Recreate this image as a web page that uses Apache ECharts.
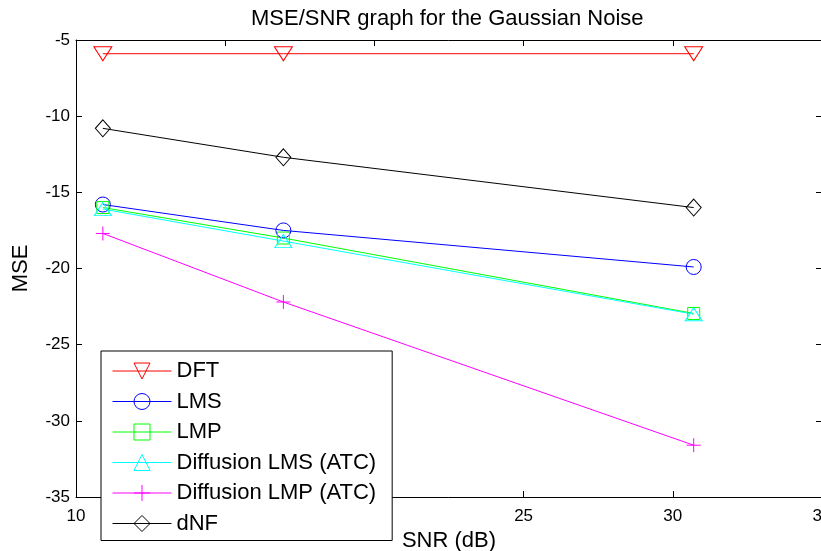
<!DOCTYPE html>
<html>
<head>
<meta charset="utf-8">
<script src="https://cdn.jsdelivr.net/npm/echarts@6/dist/echarts.min.js"></script>
<style>html,body{margin:0;padding:0;background:#fff;}#c{width:821px;height:551px;}</style>
</head>
<body>
<div id="c"></div>
<script>
var snr = [10.9, 16.95, 30.7];
var dft = [-5.9, -5.9, -5.9];
var lms = [-15.8, -17.5, -19.9];
var lmp = [-16.0, -18.0, -22.95];
var diffLms = [-16.1, -18.2, -23.0];
var diffLmp = [-17.7, -22.2, -31.6];
var dnf = [-10.8, -12.7, -16.0];
var seriesNames = ['DFT', 'LMS', 'LMP', 'Diffusion LMS (ATC)', 'Diffusion LMP (ATC)', 'dNF'];

var FONT = 'Liberation Sans, Arial, sans-serif';
var plusPath = 'path://M0,5L10,5M5,0L5,10';

function pairs(ys) { return snr.map(function (x, i) { return [x, ys[i]]; }); }

function mk(name, ys, color, symbol, size, rotate) {
  return {
    type: 'line', name: name, data: pairs(ys),
    symbol: symbol, symbolSize: size, symbolRotate: rotate || 0,
    showAllSymbol: true,
    color: color,
    lineStyle: { color: color, width: 1 },
    itemStyle: { color: 'rgba(255,255,255,0)', borderColor: color, borderWidth: 1 },
    emphasis: { disabled: true },
    animation: false
  };
}

var chart = echarts.init(document.getElementById('c'), null, { renderer: 'canvas' });
var axisCommon = {
  axisLine: { show: true, onZero: false, lineStyle: { color: '#000', width: 1 } },
  axisTick: { show: true, inside: true, length: 6, lineStyle: { color: '#000' } },
  splitLine: { show: false }
};
chart.setOption({
  backgroundColor: '#fff',
  animation: false,
  title: {
    text: 'MSE/SNR graph for the Gaussian Noise',
    left: 246, top: 3,
    textStyle: { fontFamily: FONT, fontSize: 22, fontWeight: 'normal', color: '#000' }
  },
  grid: { left: 76, top: 40, right: -1, bottom: 54, containLabel: false, outerBoundsMode: 'none' },
  xAxis: [
    Object.assign({
      type: 'value', position: 'bottom', min: 10, max: 35, interval: 5,
      axisLabel: { color: '#000', fontSize: 17, fontFamily: FONT, margin: 11 },
      name: 'SNR (dB)', nameLocation: 'middle', nameGap: 27,
      nameTextStyle: { color: '#000', fontSize: 22, fontFamily: FONT }
    }, axisCommon),
    Object.assign({
      type: 'value', position: 'top', min: 10, max: 35, interval: 5,
      axisLabel: { show: false }
    }, axisCommon)
  ],
  yAxis: [
    Object.assign({
      type: 'value', position: 'left', min: -35, max: -5, interval: 5,
      axisLabel: { color: '#000', fontSize: 17, fontFamily: FONT, margin: 6 },
      name: 'MSE', nameLocation: 'middle', nameGap: 44,
      nameTextStyle: { color: '#000', fontSize: 22, fontFamily: FONT }
    }, axisCommon),
    Object.assign({
      type: 'value', position: 'right', min: -35, max: -5, interval: 5,
      axisLabel: { show: false }
    }, axisCommon)
  ],
  legend: {
    orient: 'vertical', left: 101, top: 351,
    padding: [9, 16, 6, 11],
    itemWidth: 59, itemHeight: 20, itemGap: 8.5,
    backgroundColor: '#fff', borderColor: '#000', borderWidth: 1,
    lineStyle: { width: 1, color: 'inherit' },
    itemStyle: { borderWidth: 1, borderColor: 'inherit', color: 'rgba(255,255,255,0)' },
    textStyle: { color: '#000', fontSize: 22, fontFamily: FONT },
    data: seriesNames
  },
  series: [
    mk(seriesNames[0], dft, '#ff0000', 'triangle', [18, 14], 180),
    mk(seriesNames[1], lms, '#0000ff', 'circle', 15),
    mk(seriesNames[2], lmp, '#00ff00', 'rect', 12),
    mk(seriesNames[3], diffLms, '#00ffff', 'triangle', [17, 13]),
    mk(seriesNames[4], diffLmp, '#ff00ff', plusPath, 14),
    mk(seriesNames[5], dnf, '#000000', 'diamond', [15, 17])
  ]
});
</script>
</body>
</html>
